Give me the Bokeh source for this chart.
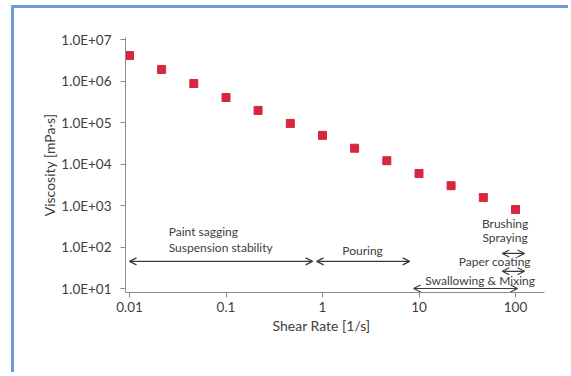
from bokeh.plotting import figure
from bokeh.models import (FixedTicker, CustomJSTickFormatter, Arrow, OpenHead, Label, Range1d, Title)
from bokeh.embed import file_html
from bokeh.resources import INLINE

# ---- data ----
shear_rate = [0.01, 0.0215, 0.0464, 0.1, 0.215, 0.464, 1.0, 2.15, 4.64, 10.0, 21.5, 46.4, 100.0]
viscosity = [4.1e6, 1.9e6, 8.7e5, 4.0e5, 1.95e5, 9.5e4, 4.9e4, 2.4e4, 1.2e4, 5.9e3, 3.0e3, 1.55e3, 8.0e2]

x_ticks = [0.01, 0.1, 1, 10, 100]
x_tick_labels = ["0.01", "0.1", "1", "10", "100"]
y_ticks = [1e1, 1e2, 1e3, 1e4, 1e5, 1e6, 1e7]

# application ranges: start / end shear rate and arrow viscosity level
# order: paint sagging, pouring, swallowing & mixing, paper coating, brushing/spraying
app_start = [0.01, 0.87, 8.8, 73, 73]
app_end = [0.79, 8.0, 105, 124, 124]
app_level = [45, 45, 10, 26, 70]

FONT = "Lato"
TXT = "#404040"
PXD_X = 96.5   # px per decade
PXD_Y = 41.5
EXT = 4        # px of padding around the 0.01 / 10 corner

p = figure(width=568, height=372, x_axis_type="log", y_axis_type="log",
           output_backend="svg", toolbar_location=None,
           x_range=Range1d(10 ** (-2 - EXT / PXD_X), 10 ** (-2 - EXT / PXD_X + 419 / PXD_X)),
           y_range=Range1d(10 ** (1 - EXT / PXD_Y), 10 ** (1 - EXT / PXD_Y + 255 / PXD_Y)),
           min_border_left=125, min_border_right=24, min_border_top=37, min_border_bottom=80)
p.outline_line_color = None
p.grid.visible = False
p.background_fill_color = "white"
p.border_fill_color = None
p.styles = {"background": "linear-gradient(#6f9bd6,#6f9bd6) 11px 5px / 3px 100% no-repeat, "
                          "linear-gradient(#6f9bd6,#6f9bd6) 11px 5px / 100% 3px no-repeat, white"}

# axes
xa = p.xaxis[0]
xa.ticker = FixedTicker(ticks=x_ticks, minor_ticks=[])
xa.major_label_overrides = {t: l for t, l in zip(x_ticks, x_tick_labels)}

ya = p.yaxis[0]
ya.ticker = FixedTicker(ticks=y_ticks, minor_ticks=[])
ya.formatter = CustomJSTickFormatter(code="return tick.toExponential(1).toUpperCase().replace('E+', 'E+0');")
ya.axis_label = "Viscosity [mPa\u00b7s]"

for ax in (xa, ya):
    ax.axis_line_color = "#8c8c8c"
    ax.major_tick_line_color = "#8c8c8c"
    ax.major_tick_in = 0
    ax.major_tick_out = 5
    ax.minor_tick_line_color = None
    ax.major_label_text_font = FONT
    ax.major_label_text_font_size = "13.5px"
    ax.major_label_text_color = TXT
    ax.axis_label_text_font = FONT
    ax.axis_label_text_font_size = "14px"
    ax.axis_label_text_font_style = "normal"
    ax.axis_label_text_color = TXT
xa.major_label_standoff = 4
ya.major_label_standoff = 9
ya.axis_label_standoff = 0

# x axis title, centred under the 0.01..100 span
p.add_layout(Title(text="Shear Rate [1/s]", align="left", offset=147, standoff=0,
                   text_font=FONT, text_font_size="14px", text_font_style="normal",
                   text_color=TXT), "below")

# data points
p.scatter(shear_rate, viscosity, marker="square", size=8, color="#d7263d")

# application arrows
for s, e, lv in zip(app_start, app_end, app_level):
    p.add_layout(Arrow(x_start=s, y_start=lv, x_end=e, y_end=lv,
                       line_color="#3a3a3a", line_width=1.2,
                       start=OpenHead(size=7, line_color="#3a3a3a", line_width=1.2),
                       end=OpenHead(size=7, line_color="#3a3a3a", line_width=1.2)))

def lab(text, x, y, align="left"):
    p.add_layout(Label(x=x, y=y, text=text, text_font=FONT, text_font_size="12px",
                       text_color=TXT, text_align=align, text_baseline="middle"))

def vy(py):
    return 10 ** (7 - (py - 39) / PXD_Y)

lab("Paint sagging", 0.0255, vy(231))
lab("Suspension stability", 0.0255, vy(247))
lab("Pouring", 2.6, vy(250), "center")
lab("Swallowing & Mixing", 43, vy(280), "center")
lab("Paper coating", 61, vy(261), "center")
lab("Brushing", 78, vy(223), "center")
lab("Spraying", 78, vy(237), "center")

open("out.html", "w").write(file_html(p, INLINE))
